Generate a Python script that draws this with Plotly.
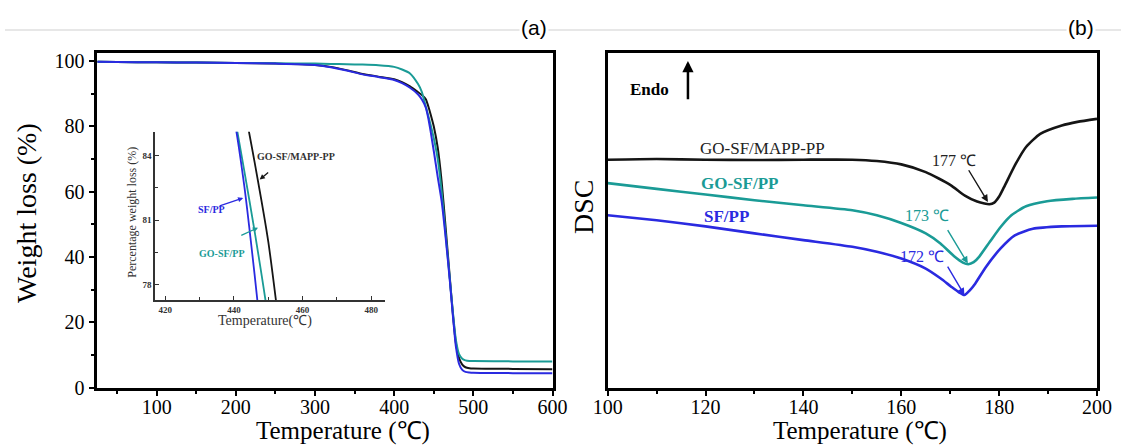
import plotly.graph_objects as go

W, H = 1121, 446
def px(x): return x / W
def py(y): return 1 - y / H

# ---------------- TGA data (panel a) ----------------
tga_T = [25, 50, 100, 150, 200, 250, 300, 320, 340, 360, 380, 400, 410, 420, 430, 435,
         440, 443, 446, 450, 455, 460, 465, 470, 474, 478, 482, 486, 490, 495, 500, 550, 600]
tga_mapp = [99.8, 99.7, 99.6, 99.5, 99.4, 99.2, 98.8, 98.2, 97.2, 96.0, 95.2, 94.4, 93.5, 92.2, 90.5, 89.6,
            88.3, 86.2, 83.7, 80.0, 73.5, 63.0, 49.0, 34.5, 23.0, 13.5, 9.0, 7.0, 6.2, 5.9, 5.8, 5.7, 5.6]
tga_gosf = [99.8, 99.7, 99.6, 99.5, 99.4, 99.3, 99.2, 99.1, 99.0, 98.9, 98.7, 98.2, 97.4, 96.2, 93.0, 90.5,
            86.0, 83.3, 80.5, 76.4, 70.0, 60.0, 47.0, 34.0, 23.5, 14.5, 10.2, 8.8, 8.3, 8.1, 8.1, 8.0, 8.0]
tga_sf = [99.8, 99.7, 99.6, 99.5, 99.4, 99.2, 98.8, 98.1, 97.1, 95.9, 95.1, 94.2, 93.2, 91.8, 89.8, 88.2,
          85.7, 82.6, 78.5, 72.5, 64.5, 57.0, 46.0, 33.5, 22.5, 12.5, 7.2, 5.4, 4.8, 4.6, 4.5, 4.4, 4.4]

# ---------------- DSC data (panel b) ----------------
dsc_mapp_T = [100, 110, 120, 130, 140, 150, 155, 160, 165, 170, 173, 175.5, 177, 178, 179, 180, 181,
              183.4, 185.5, 188.4, 192.8, 196, 200]
dsc_mapp = [6.80, 6.82, 6.80, 6.79, 6.80, 6.80, 6.76, 6.66, 6.43, 6.05, 5.73, 5.55, 5.49, 5.47, 5.52, 5.70, 5.98,
            6.68, 7.18, 7.57, 7.82, 7.93, 8.02]
dsc_gosf_T = [100, 110, 120, 130, 140, 150, 155, 160, 165, 168, 170.8, 172.6, 173.7, 174.8, 175.9, 178.1,
              180.3, 182.5, 185.5, 189.8, 195, 200]
dsc_gosf = [6.10, 5.93, 5.76, 5.59, 5.44, 5.29, 5.14, 4.91, 4.60, 4.30, 3.92, 3.73, 3.68, 3.74, 3.90, 4.35,
            4.79, 5.14, 5.41, 5.56, 5.63, 5.67]
dsc_sf_T = [100, 110, 120, 130, 140, 150, 155, 160, 165, 168, 170.2, 171.8, 172.9, 174, 175.1, 177.3,
            180.3, 183.2, 186.9, 192.8, 200]
dsc_sf = [5.14, 4.99, 4.81, 4.60, 4.40, 4.20, 4.05, 3.85, 3.55, 3.26, 3.01, 2.84, 2.76, 2.90, 3.10, 3.60,
          4.15, 4.54, 4.74, 4.81, 4.83]

names = ["GO-SF/MAPP-PP", "GO-SF/PP", "SF/PP"]
BLACK, TEAL, BLUE = "#151515", "#1a9b96", "#2a2ae0"
SERIF = "Liberation Serif"

fig = go.Figure()
sp = dict(shape="spline", smoothing=0.6)

for y, c, n in [(tga_mapp, BLACK, names[0]), (tga_gosf, TEAL, names[1]), (tga_sf, BLUE, names[2])]:
    fig.add_trace(go.Scatter(x=tga_T, y=y, mode="lines", name=n, line=dict(color=c, width=2, **sp),
                             xaxis="x", yaxis="y", showlegend=False))
for y, c, n in [(tga_mapp, BLACK, names[0]), (tga_gosf, TEAL, names[1]), (tga_sf, BLUE, names[2])]:
    fig.add_trace(go.Scatter(x=tga_T, y=y, mode="lines", name=n, line=dict(color=c, width=1.8, **sp),
                             xaxis="x3", yaxis="y3", showlegend=False))
for xx, y, c, n in [(dsc_mapp_T, dsc_mapp, BLACK, names[0]), (dsc_gosf_T, dsc_gosf, TEAL, names[1]),
                    (dsc_sf_T, dsc_sf, BLUE, names[2])]:
    fig.add_trace(go.Scatter(x=xx, y=y, mode="lines", name=n, line=dict(color=c, width=2.6, **sp),
                             xaxis="x2", yaxis="y2", showlegend=False))

tickf = dict(family=SERIF, size=20, color="black")
frame = dict(showline=True, linewidth=2.5, linecolor="black", mirror=True, ticks="outside",
             ticklen=6, tickwidth=1.5, tickcolor="black", showgrid=False, zeroline=False,
             tickfont=tickf)

xdom1 = [px(97.3), px(552.5)]
xdom2 = [px(607.7), px(1097.0)]
ydom = [py(387.5), py(52.5)]

fig.update_layout(
    width=W, height=H, margin=dict(l=0, r=0, t=0, b=0, autoexpand=False),
    paper_bgcolor="white", plot_bgcolor="white",
    xaxis=dict(domain=xdom1, anchor="y", range=[25, 600], dtick=100, tick0=0, ticklabelstandoff=-6,
               minor=dict(dtick=50, ticks="outside", ticklen=4, tickcolor="black"), **frame),
    yaxis=dict(domain=ydom, anchor="x", range=[0, 102.6], dtick=20, tick0=0,
               minor=dict(dtick=10, ticks="outside", ticklen=4, tickcolor="black"), **frame),
    xaxis2=dict(domain=xdom2, anchor="y2", range=[100, 200], dtick=20, tick0=100, ticklabelstandoff=-6,
                minor=dict(dtick=10, ticks="outside", ticklen=4, tickcolor="black"), **frame),
    yaxis2=dict(domain=ydom, anchor="x2", range=[0, 10], showline=True, linewidth=2.5,
                linecolor="black", mirror=True, ticks="", showticklabels=False,
                showgrid=False, zeroline=False),
    xaxis3=dict(domain=[px(155), px(385)], anchor="y3", range=[417, 484], dtick=20, tick0=420,
                showline=True, linewidth=1.5, linecolor="#333", mirror=False, ticks="inside",
                ticklen=4, tickcolor="#333", showgrid=False, zeroline=False,
                minor=dict(dtick=10, ticks="inside", ticklen=3, tickcolor="#333"),
                tickfont=dict(family=SERIF, size=9, color="#333", weight="bold")),
    yaxis3=dict(domain=[py(300), py(131.7)], anchor="x3", range=[77.3, 85.1], dtick=3, tick0=78,
                showline=True, linewidth=1.5, linecolor="#333", mirror=False, ticks="inside",
                ticklen=4, tickcolor="#333", showgrid=False, zeroline=False,
                minor=dict(dtick=1.5, ticks="inside", ticklen=3, tickcolor="#333"),
                tickfont=dict(family=SERIF, size=9, color="#333", weight="bold")),
)

ann = []
def paper_text(x, y, t, size, angle=0, family=SERIF, color="black", bg=None):
    d = dict(x=px(x), y=py(y), xref="paper", yref="paper", text=t, showarrow=False,
             textangle=angle, font=dict(family=family, size=size, color=color),
             xanchor="center", yanchor="middle")
    if bg:
        d["bgcolor"] = bg
    ann.append(d)

paper_text(27, 213, "Weight loss (%)", 28, angle=-90)
paper_text(343, 430.5, "Temperature (℃)", 25)
paper_text(860, 430.5, "Temperature (℃)", 25)
paper_text(583, 207, "DSC", 28, angle=-90)
paper_text(534, 28, "(a)", 21, family="Liberation Sans", bg="white")
paper_text(1081, 28, "(b)", 21, family="Liberation Sans", bg="white")
paper_text(131.7, 212, "Percentage weight loss (%)", 12, angle=-90, color="#333")
paper_text(265, 321, "Temperature(℃)", 14, color="#333")

def data_text(xr, yr, x, y, t, size, color, bold=False):
    ann.append(dict(x=x, y=y, xref=xr, yref=yr, text=(f"<b>{t}</b>" if bold else t), showarrow=False,
                    font=dict(family=SERIF, size=size, color=color), xanchor="center", yanchor="middle"))

def data_arrow(xr, yr, x, y, ax, ay, color, width, size=1.0):
    ann.append(dict(x=x, y=y, ax=ax, ay=ay, xref=xr, yref=yr, axref=xr, ayref=yr, text="",
                    showarrow=True, arrowhead=2, arrowsize=size, arrowwidth=width, arrowcolor=color))

data_text("x2", "y2", 108.6, 8.89, "Endo", 17, "black", bold=True)
data_arrow("x2", "y2", 116.4, 9.75, 116.4, 8.56, "black", 2.5, 0.9)
data_text("x2", "y2", 131.6, 7.12, "GO-SF/MAPP-PP", 17, "#222")
data_text("x2", "y2", 170.8, 6.78, "177 ℃", 16, "#222")
data_arrow("x2", "y2", 177.7, 5.54, 173.6, 6.53, BLACK, 1.4)
data_text("x2", "y2", 126.9, 6.08, "GO-SF/PP", 17, TEAL, bold=True)
data_text("x2", "y2", 165.2, 5.14, "173 ℃", 16, TEAL)
data_arrow("x2", "y2", 173.6, 3.70, 169.3, 4.74, TEAL, 1.4)
data_text("x2", "y2", 124.3, 5.11, "SF/PP", 17, BLUE, bold=True)
data_text("x2", "y2", 164.2, 3.90, "172 ℃", 16, BLUE)
data_arrow("x2", "y2", 172.9, 2.76, 169.3, 3.65, BLUE, 1.4)

data_text("x3", "y3", 458.2, 83.97, "GO-SF/MAPP-PP", 10, "#333", bold=True)
data_arrow("x3", "y3", 447.5, 82.88, 450.4, 83.27, BLACK, 1.3, 0.8)
data_text("x3", "y3", 433.5, 81.49, "SF/PP", 10, BLUE, bold=True)
data_arrow("x3", "y3", 442.7, 82.03, 435.4, 81.64, BLUE, 1.3, 0.8)
data_text("x3", "y3", 436.4, 79.44, "GO-SF/PP", 10, TEAL, bold=True)
data_arrow("x3", "y3", 447.0, 80.65, 441.7, 80.26, TEAL, 1.3, 0.8)

fig.update_layout(annotations=ann)

fig.add_shape(type="line", xref="paper", yref="paper", x0=px(5), x1=1, y0=py(30), y1=py(30),
              line=dict(color="#cfcfcf", width=1.2), layer="below")

fig.write_html("out.html",
               post_script="document.body.style.margin='0';document.body.style.overflow='hidden';")
